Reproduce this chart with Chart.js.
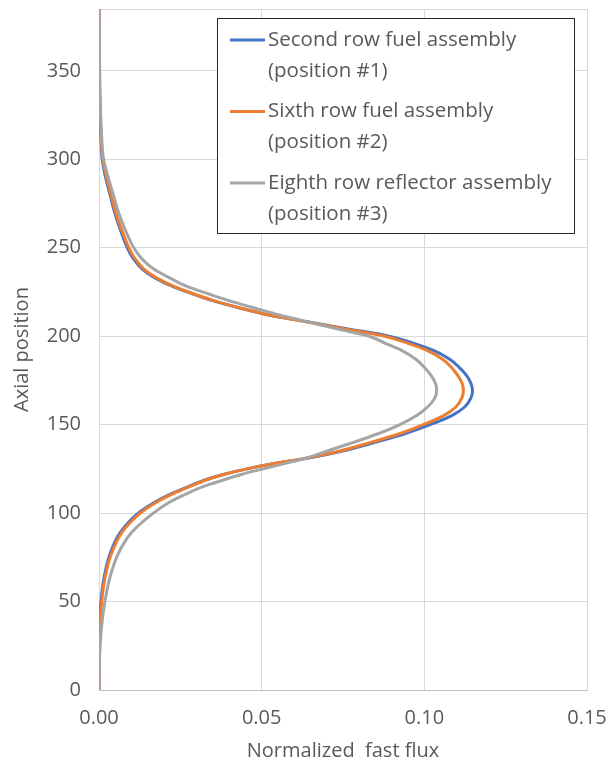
<!DOCTYPE html>
<html>
<head>
<meta charset="utf-8">
<script src="https://cdn.jsdelivr.net/npm/chart.js@4/dist/chart.umd.min.js"></script>
<style>
  html, body { margin: 0; padding: 0; background: #fff; }
  #wrap { width: 609px; height: 769px; }
</style>
</head>
<body>
<div id="wrap"><canvas id="fluxChart" width="609" height="769"></canvas></div>
<script>
// axial positions the curves were read at
const axialPosition = [0, 20, 36, 50, 64, 77, 89, 100, 106, 111, 115, 119, 122, 125, 128, 131, 135, 140, 145, 150,
  155, 160, 165, 169, 173, 178, 183, 187, 192, 196, 200, 204, 208, 212, 216, 220, 224, 228, 233, 238,
  244, 250, 260, 270, 280, 290, 300, 317, 340, 385];

// normalized fast flux per assembly
const secondRow = [0, 0.0000, 0.0002, 0.0006, 0.0016, 0.0034, 0.0065, 0.0121, 0.0170, 0.0223, 0.0275, 0.0330, 0.0385, 0.0455, 0.0540, 0.0640, 0.0745, 0.0848, 0.0942, 0.1018,
  0.1083, 0.1124, 0.1143, 0.1148, 0.1144, 0.1129, 0.1104, 0.1078, 0.1028, 0.0968, 0.0892, 0.0770, 0.0645, 0.0522, 0.0432, 0.0352, 0.0287, 0.0228, 0.0172, 0.0133,
  0.0105, 0.0087, 0.0066, 0.0048, 0.0034, 0.0020, 0.0010, 0.0005, 0.0001, 0];
const sixthRow = [0, 0.0001, 0.0003, 0.0008, 0.0019, 0.0038, 0.0070, 0.0127, 0.0175, 0.0228, 0.0278, 0.0333, 0.0386, 0.0455, 0.0538, 0.0635, 0.0738, 0.0836, 0.0926, 0.0997,
  0.1058, 0.1097, 0.1115, 0.1120, 0.1117, 0.1102, 0.1080, 0.1056, 0.1008, 0.0950, 0.0879, 0.0760, 0.0640, 0.0522, 0.0434, 0.0355, 0.0290, 0.0232, 0.0177, 0.0138,
  0.0110, 0.0092, 0.0070, 0.0051, 0.0037, 0.0023, 0.0012, 0.0006, 0.0002, 0];
const eighthRow = [0, 0.0002, 0.0008, 0.0018, 0.0034, 0.0059, 0.0100, 0.0167, 0.0215, 0.0270, 0.0320, 0.0387, 0.0440, 0.0505, 0.0570, 0.0635, 0.0700, 0.0782, 0.0860, 0.0925,
  0.0975, 0.1010, 0.1032, 0.1038, 0.1035, 0.1020, 0.0997, 0.0974, 0.0930, 0.0880, 0.0830, 0.0735, 0.0645, 0.0555, 0.0478, 0.0402, 0.0336, 0.0272, 0.0217, 0.0168,
  0.0131, 0.0107, 0.0081, 0.0060, 0.0044, 0.0028, 0.0014, 0.0007, 0.0003, 0];

const seriesNames = [
  ["Second row fuel assembly", "(position #1)"],
  ["Sixth row fuel assembly", "(position #2)"],
  ["Eighth row reflector assembly", "(position #3)"]
];
const seriesColors = ["#4472C4", "#ED7D31", "#A5A5A5"];

const xTicks = [0, 0.05, 0.10, 0.15];
const yTicks = [0, 50, 100, 150, 200, 250, 300, 350, 385];

const TEXT = "#595959";
const GRID = "#d9d9d9";
const FONT = "'Open Sans', 'Noto Sans', sans-serif";

function toPoints(values) {
  return values.map((v, i) => ({ x: v, y: axialPosition[i] }));
}

// legend box sitting inside the plot, upper right
const boxLegend = {
  id: "boxLegend",
  afterDatasetsDraw(chart) {
    const ctx = chart.ctx;
    const left = 217, top = 18, width = 357, height = 215;
    ctx.save();
    ctx.fillStyle = "#fff";
    ctx.fillRect(left, top, width, height);
    ctx.strokeStyle = "#262626";
    ctx.lineWidth = 1;
    ctx.strokeRect(left + 0.5, top + 0.5, width, height);
    ctx.font = "20.5px " + FONT;
    ctx.textBaseline = "middle";
    ctx.fillStyle = TEXT;
    seriesNames.forEach((lines, i) => {
      const y = top + 22 + i * 71.5;
      ctx.strokeStyle = seriesColors[i];
      ctx.lineWidth = 3;
      ctx.beginPath();
      ctx.moveTo(left + 13, y);
      ctx.lineTo(left + 48, y);
      ctx.stroke();
      ctx.fillText(lines[0], left + 51, y);
      ctx.fillText(lines[1], left + 51, y + 31);
    });
    ctx.restore();
  }
};

new Chart(document.getElementById("fluxChart"), {
  type: "scatter",
  data: {
    datasets: [eighthRow, sixthRow, secondRow].map((vals, k) => {
      const i = 2 - k;
      return {
        label: seriesNames[i].join(" "),
        data: toPoints(vals),
        showLine: true,
        borderColor: seriesColors[i],
        backgroundColor: seriesColors[i],
        borderWidth: 3,
        pointRadius: 0,
        cubicInterpolationMode: "monotone",
        order: k
      };
    })
  },
  options: {
    responsive: false,
    animation: false,
    indexAxis: "y",
    layout: { padding: { top: 9, right: 22, left: 0, bottom: 0 } },
    plugins: {
      legend: { display: false },
      tooltip: { enabled: false }
    },
    scales: {
      x: {
        type: "linear",
        min: 0,
        max: 0.15,
        afterBuildTicks(scale) { scale.ticks = xTicks.map(v => ({ value: v })); },
        afterFit(scale) { scale.height = 79; scale.paddingLeft = 0; scale.paddingRight = 0; },
        ticks: {
          color: TEXT,
          font: { family: FONT, size: 20 },
          padding: 16,
          callback: v => v.toFixed(2)
        },
        grid: { color: GRID, lineWidth: 1, drawTicks: false },
        border: { color: "#bfbfbf" },
        title: {
          display: true,
          text: "Normalized  fast flux",
          color: TEXT,
          font: { family: FONT, size: 20 },
          padding: { top: 0, bottom: 6 }
        }
      },
      y: {
        type: "linear",
        min: 0,
        max: 385,
        afterBuildTicks(scale) { scale.ticks = yTicks.map(v => ({ value: v })); },
        afterFit(scale) { scale.width = 99; scale.paddingTop = 0; scale.paddingBottom = 0; },
        ticks: {
          color: TEXT,
          font: { family: FONT, size: 20 },
          padding: 18,
          callback: v => (v === 385 ? "" : String(v))
        },
        grid: { color: GRID, lineWidth: 1, drawTicks: false },
        border: { color: GRID },
        title: {
          display: true,
          text: "Axial position",
          color: TEXT,
          font: { family: FONT, size: 20 },
          padding: { top: 10, bottom: 0 }
        }
      }
    }
  },
  plugins: [boxLegend]
});
</script>
</body>
</html>
